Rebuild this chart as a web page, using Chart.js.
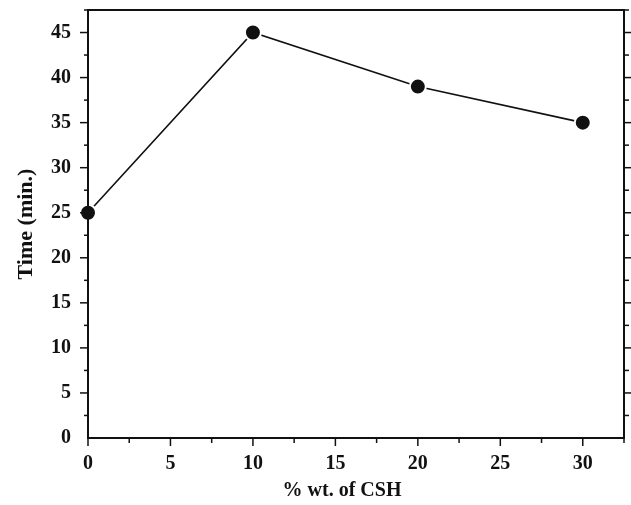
<!DOCTYPE html>
<html>
<head>
<meta charset="utf-8">
<script src="https://cdn.jsdelivr.net/npm/chart.js@4/dist/chart.umd.min.js"></script>
<style>
html,body{margin:0;padding:0;background:#fff;}
#wrap{width:631px;height:505px;position:relative;}
</style>
</head>
<body>
<div id="wrap"><canvas id="c"></canvas></div>
<script>
const csh = [0, 10, 20, 30];
const timeMin = [25, 45, 39, 35];
const xTitle = '% wt. of CSH';
const yTitle = 'Time (min.)';

const INK = '#111';
const FONT = '"Liberation Serif", "Times New Roman", serif';

const frameTicks = {
  id: 'frameTicks',
  afterDraw(chart) {
    const {ctx, chartArea: a, scales: {x, y}} = chart;
    ctx.save();
    ctx.strokeStyle = INK;
    ctx.lineWidth = 2;
    ctx.strokeRect(a.left, a.top, a.right - a.left, a.bottom - a.top);
    ctx.lineWidth = 1.5;
    const drawX = (v, len) => {
      const px = x.getPixelForValue(v);
      ctx.beginPath(); ctx.moveTo(px, a.bottom); ctx.lineTo(px, a.bottom + len); ctx.stroke();
    };
    const drawY = (v, lenL, lenR) => {
      const py = y.getPixelForValue(v);
      ctx.beginPath(); ctx.moveTo(a.left, py); ctx.lineTo(a.left - lenL, py); ctx.stroke();
      ctx.beginPath(); ctx.moveTo(a.right, py); ctx.lineTo(a.right + lenR, py); ctx.stroke();
    };
    x.ticks.forEach(t => {
      drawX(t.value, 8);
      const m = t.value + 2.5;
      if (m <= x.max + 1e-9) drawX(m, 5);
    });
    y.ticks.forEach(t => {
      if (t.value > y.min) drawY(t.value, 8, 7);
      const m = t.value + 2.5;
      if (m <= y.max + 1e-9) drawY(m, 4, 5);
    });
    // x-axis title (slightly left of centre, as in the reference)
    ctx.fillStyle = INK;
    ctx.font = 'bold 20px ' + FONT;
    ctx.textAlign = 'center';
    ctx.textBaseline = 'middle';
    ctx.fillText(xTitle, (a.left + a.right) / 2 - 14, 491);
    ctx.restore();
  }
};

function draw() {
  new Chart(document.getElementById('c'), {
    type: 'scatter',
    data: {
      datasets: [{
        data: csh.map((v, i) => ({x: v, y: timeMin[i]})),
        showLine: true,
        borderColor: INK,
        borderWidth: 1.6,
        backgroundColor: INK,
        pointBackgroundColor: INK,
        pointBorderColor: '#fff',
        pointBorderWidth: 2,
        pointRadius: 8,
        pointHoverRadius: 8,
        clip: false
      }]
    },
    options: {
      responsive: true,
      maintainAspectRatio: false,
      animation: false,
      events: [],
      layout: {autoPadding: false, padding: {left: 0, top: 10, right: 7, bottom: 0}},
      plugins: {legend: {display: false}, tooltip: {enabled: false}},
      scales: {
        x: {
          type: 'linear',
          min: 0, max: 32.5,
          afterFit(s) { s.height = 67; s.paddingLeft = 0; s.paddingRight = 0; },
          grid: {display: true, drawOnChartArea: false, drawTicks: false},
          border: {display: false},
          ticks: {stepSize: 5, includeBounds: false, padding: 14, color: INK,
                  font: {family: FONT, size: 20, weight: 'bold'}, maxRotation: 0},
          title: {display: false, text: xTitle}
        },
        y: {
          type: 'linear',
          min: 0, max: 47.5,
          afterFit(s) { s.width = 88; s.paddingTop = 0; s.paddingBottom = 0; },
          grid: {display: true, drawOnChartArea: false, drawTicks: false},
          border: {display: false},
          ticks: {stepSize: 5, includeBounds: false, padding: 17, color: INK,
                  font: {family: FONT, size: 20, weight: 'bold'}},
          title: {display: true, text: yTitle, color: INK, padding: {top: 13, bottom: 0},
                  font: {family: FONT, size: 22, weight: 'bold'}}
        }
      }
    },
    plugins: [frameTicks]
  });
}

Promise.all([
  document.fonts.load('bold 20px "Liberation Serif"'),
  document.fonts.load('bold 22px "Liberation Serif"')
]).then(draw, draw);
</script>
</body>
</html>
